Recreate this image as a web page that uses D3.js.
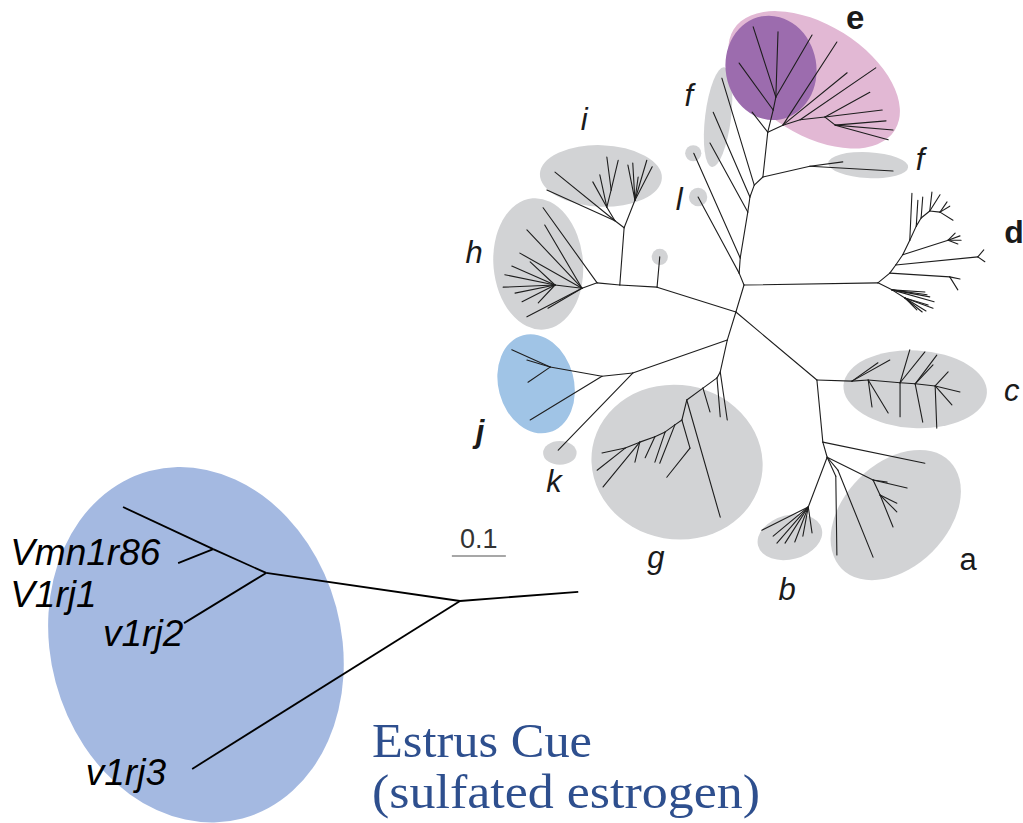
<!DOCTYPE html>
<html>
<head>
<meta charset="utf-8">
<script src="https://cdn.jsdelivr.net/npm/d3@7"></script>
<style>
  html, body { margin: 0; padding: 0; background: #ffffff; }
  svg { display: block; }
</style>
</head>
<body>
<svg id="chart" width="1023" height="823"></svg>
<script>
// V1R receptor family: unrooted tree, node positions in substitutions/site
// [id, parent, x, y]
const treeNodes = [
  ["A", null, 0, 0],
  ["d0", "A", 0.248, -0.004],
  ["U1", "A", -0.009, -0.022],
  ["tl", "U1", -0.085, -0.163],
  ["U2", "U1", -0.007, -0.050],
  ["tdot", "U2", -0.093, -0.244],
  ["U3", "U2", 0.007, -0.135],
  ["tf1", "U3", -0.063, -0.263],
  ["U3b", "U3", 0.011, -0.163],
  ["tf2", "U3b", -0.057, -0.320],
  ["U4", "U3b", 0.019, -0.185],
  ["tf3", "U4", -0.041, -0.383],
  ["U5", "U4", 0.035, -0.200],
  ["F1", "U5", 0.122, -0.220],
  ["tfr1", "F1", 0.183, -0.228],
  ["tfr2", "F1", 0.276, -0.211],
  ["U6", "U5", 0.044, -0.283],
  ["te0", "U6", 0.015, -0.320],
  ["P", "U6", 0.054, -0.324],
  ["tp1", "P", -0.009, -0.411],
  ["P2", "P", 0.059, -0.348],
  ["tp2", "P2", 0.017, -0.478],
  ["tp3", "P2", 0.063, -0.469],
  ["tp4", "P2", 0.126, -0.463],
  ["K", "U6", 0.072, -0.296],
  ["tk1", "K", 0.172, -0.450],
  ["tk2", "K", 0.191, -0.393],
  ["Ka", "K", 0.104, -0.306],
  ["tk3", "Ka", 0.244, -0.402],
  ["K2", "Ka", 0.150, -0.311],
  ["tk4", "K2", 0.233, -0.357],
  ["tk5", "K2", 0.256, -0.324],
  ["K3", "K2", 0.169, -0.296],
  ["tk6", "K3", 0.276, -0.287],
  ["tk7", "K3", 0.267, -0.269],
  ["tk8", "K3", 0.263, -0.304],
  // d
  ["d1", "d0", 0.270, -0.022],
  ["d7", "d1", 0.381, -0.015],
  ["td1", "d7", 0.400, -0.011],
  ["td2", "d7", 0.396, 0.009],
  ["d2", "d1", 0.281, -0.037],
  ["d6", "d2", 0.433, -0.052],
  ["td3", "d6", 0.444, -0.065],
  ["td4", "d6", 0.446, -0.043],
  ["d3", "d2", 0.294, -0.056],
  ["d5", "d3", 0.378, -0.083],
  ["td5", "d5", 0.400, -0.091],
  ["td6", "d5", 0.402, -0.083],
  ["td7", "d5", 0.396, -0.076],
  ["td8", "d5", 0.391, -0.096],
  ["d4", "d3", 0.307, -0.083],
  ["td9", "d4", 0.311, -0.170],
  ["d4b", "d4", 0.319, -0.109],
  ["td10", "d4b", 0.322, -0.157],
  ["d4c", "d4b", 0.328, -0.124],
  ["td11", "d4c", 0.331, -0.163],
  ["d4d", "d4c", 0.344, -0.137],
  ["td12", "d4d", 0.348, -0.172],
  ["td13", "d4d", 0.363, -0.167],
  ["d4e", "d4d", 0.363, -0.135],
  ["td14", "d4e", 0.381, -0.146],
  ["td15", "d4e", 0.387, -0.120],
  ["td16", "d4e", 0.376, -0.154],
  ["d8", "d0", 0.274, 0.009],
  ["td17", "d8", 0.335, 0.013],
  ["td18", "d8", 0.344, 0.022],
  ["td19", "d8", 0.352, 0.031],
  ["d9", "d8", 0.298, 0.024],
  ["td20", "d9", 0.350, 0.043],
  ["td21", "d9", 0.330, 0.050],
  ["td22", "d9", 0.320, 0.046],
  ["td23", "d9", 0.341, 0.037],
  ["td24", "d9", 0.337, 0.048],
  ["td25", "d8", 0.339, 0.018],
  // c, a, b
  ["B", "A", -0.015, 0.050],
  ["AB0", "B", 0.135, 0.176],
  ["c1", "AB0", 0.200, 0.178],
  ["tc1", "c1", 0.270, 0.139],
  ["tc2", "c1", 0.248, 0.144],
  ["c2", "c1", 0.230, 0.176],
  ["tc3", "c2", 0.237, 0.226],
  ["tc4", "c2", 0.267, 0.237],
  ["c3", "c2", 0.289, 0.181],
  ["tc5", "c3", 0.307, 0.120],
  ["tc6", "c3", 0.289, 0.244],
  ["tc15", "c3", 0.335, 0.124],
  ["c4", "c3", 0.317, 0.183],
  ["tc8", "c4", 0.357, 0.130],
  ["tc9", "c4", 0.331, 0.254],
  ["tc10", "c4", 0.350, 0.148],
  ["c5", "c4", 0.354, 0.187],
  ["tc11", "c5", 0.400, 0.198],
  ["tc12", "c5", 0.357, 0.265],
  ["tc13", "c5", 0.378, 0.161],
  ["tc14", "c5", 0.385, 0.222],
  ["AB1", "AB0", 0.146, 0.291],
  ["ta0", "AB1", 0.335, 0.330],
  ["AB2", "AB1", 0.154, 0.319],
  ["b0", "AB2", 0.119, 0.411],
  ["tb1", "b0", 0.033, 0.454],
  ["tb2", "b0", 0.054, 0.465],
  ["tb3", "b0", 0.061, 0.478],
  ["tb4", "b0", 0.076, 0.478],
  ["tb5", "b0", 0.094, 0.476],
  ["tb6", "b0", 0.109, 0.465],
  ["tb7", "b0", 0.126, 0.459],
  ["a1", "AB2", 0.170, 0.354],
  ["ta1", "a1", 0.172, 0.500],
  ["a2", "AB2", 0.174, 0.343],
  ["ta2", "a2", 0.239, 0.504],
  ["a3", "AB2", 0.239, 0.361],
  ["ta3", "a3", 0.302, 0.376],
  ["ta4", "a3", 0.265, 0.365],
  ["a4", "a3", 0.252, 0.389],
  ["ta5", "a4", 0.283, 0.404],
  ["ta6", "a4", 0.283, 0.420],
  ["ta7", "a4", 0.276, 0.448],
  // j, k, g
  ["F", "B", -0.031, 0.102],
  ["H", "F", -0.206, 0.163],
  ["tk", "H", -0.344, 0.306],
  ["I", "H", -0.263, 0.169],
  ["tj0", "I", -0.396, 0.250],
  ["j0", "I", -0.359, 0.152],
  ["tj1", "j0", -0.430, 0.120],
  ["tj2", "j0", -0.400, 0.180],
  ["tj3", "j0", -0.402, 0.139],
  ["G", "F", -0.044, 0.161],
  ["tg1", "G", -0.031, 0.250],
  ["G1", "G", -0.050, 0.172],
  ["tg2", "G1", -0.044, 0.244],
  ["G2", "G1", -0.076, 0.191],
  ["tg3", "G2", -0.063, 0.235],
  ["G3", "G2", -0.106, 0.213],
  ["tg4", "G3", -0.044, 0.430],
  ["G4", "G3", -0.115, 0.250],
  ["G5", "G4", -0.100, 0.302],
  ["tg5", "G5", -0.143, 0.356],
  ["G6", "G4", -0.128, 0.259],
  ["tg6", "G6", -0.156, 0.330],
  ["G7", "G6", -0.146, 0.272],
  ["tg7", "G7", -0.165, 0.328],
  ["G8", "G7", -0.165, 0.281],
  ["tg8", "G8", -0.183, 0.320],
  ["G9", "G8", -0.193, 0.291],
  ["tg9", "G9", -0.202, 0.328],
  ["G10", "G9", -0.220, 0.302],
  ["tg10", "G10", -0.263, 0.311],
  ["tg11", "G10", -0.272, 0.343],
  ["tg12", "G9", -0.261, 0.374],
  // h, i
  ["C", "B", -0.161, 0.004],
  ["tdot2", "C", -0.156, -0.052],
  ["D", "C", -0.230, 0.000],
  ["i0", "D", -0.222, -0.106],
  ["i1", "i0", -0.239, -0.119],
  ["ti1", "i1", -0.365, -0.176],
  ["ti2", "i1", -0.350, -0.209],
  ["i2", "i1", -0.254, -0.144],
  ["ti3", "i2", -0.267, -0.204],
  ["ti4", "i2", -0.280, -0.191],
  ["i4", "i2", -0.246, -0.176],
  ["ti5", "i4", -0.254, -0.237],
  ["ti6", "i4", -0.233, -0.231],
  ["i3", "i0", -0.202, -0.157],
  ["ti7", "i3", -0.215, -0.222],
  ["ti8", "i3", -0.206, -0.226],
  ["ti9", "i3", -0.180, -0.231],
  ["ti10", "i3", -0.170, -0.219],
  ["ti11", "i3", -0.196, -0.200],
  ["E", "D", -0.272, -0.004],
  ["th1", "E", -0.372, -0.143],
  ["h0", "E", -0.300, 0.006],
  ["th2", "h0", -0.402, -0.102],
  ["th3", "h0", -0.415, -0.059],
  ["th4", "h0", -0.363, 0.043],
  ["th5", "h0", -0.402, 0.059],
  ["th13", "h0", -0.369, -0.111],
  ["h1", "h0", -0.350, 0.000],
  ["th6", "h1", -0.443, -0.019],
  ["th7", "h1", -0.446, 0.004],
  ["th8", "h1", -0.424, 0.015],
  ["th9", "h1", -0.430, -0.035],
  ["th10", "h1", -0.396, -0.043],
  ["th11", "h1", -0.411, 0.031],
  ["th12", "h1", -0.381, 0.033]
];

// Clade outlines: [clade, cx, cy, rx, ry, angle]
const cladeOutlines = [
  ["f", -0.048, -0.311, 0.024, 0.093, 7],
  ["f-dot", -0.094, -0.244, 0.015, 0.015, 0],
  ["l", -0.085, -0.163, 0.017, 0.017, 0],
  ["f2", 0.230, -0.222, 0.074, 0.024, 3],
  ["i", -0.265, -0.202, 0.113, 0.057, 2],
  ["h", -0.381, -0.039, 0.083, 0.122, -5],
  ["h-dot", -0.156, -0.052, 0.015, 0.015, 0],
  ["k", -0.341, 0.311, 0.031, 0.022, 0],
  ["g", -0.124, 0.328, 0.159, 0.143, 10],
  ["c", 0.317, 0.193, 0.133, 0.072, 3],
  ["a", 0.281, 0.426, 0.141, 0.096, -45],
  ["b", 0.085, 0.467, 0.061, 0.041, -15],
  ["e", 0.130, -0.380, 0.176, 0.102, 32],
  ["e-sub", 0.050, -0.402, 0.084, 0.097, -10],
  ["j", -0.385, 0.183, 0.070, 0.093, -15]
];

const cladeLabels = ["e", "f", "i", "f", "l", "h", "d", "c", "j", "k", "g", "b", "a"];
const cladeLabelPos = [
  [0.206, -0.474], [-0.102, -0.331], [-0.296, -0.287], [0.326, -0.213],
  [-0.120, -0.139], [-0.500, -0.041], [0.500, -0.078], [0.496, 0.215],
  [-0.489, 0.291], [-0.352, 0.383], [-0.163, 0.524], [0.080, 0.583], [0.415, 0.528]
];

// Magnified view of the Estrus Cue receptor clade, rooted at its basal node
const insetNodes = [
  ["n1", null, 0, 0],
  ["stem", "n1", 0.219, -0.017],
  ["n2", "n1", -0.359, -0.052],
  ["m", "n2", -0.457, -0.096],
  ["Vmn1r86", "m", -0.624, -0.174],
  ["V1rj1", "m", -0.522, -0.070],
  ["v1rj2", "n2", -0.511, 0.041],
  ["v1rj3", "n1", -0.496, 0.311]
];
const insetLabels = ["Vmn1r86", "V1rj1", "v1rj2", "v1rj3"];
const insetLabelPos = [[-0.833, -0.067], [-0.833, 0.011], [-0.661, 0.083], [-0.693, 0.341]];
const insetOutline = [-0.489, 0.081, 0.269, 0.333, -15];

const scaleBarValue = 0.1;
const titleLines = ["Estrus Cue", "(sulfated estrogen)"];

const outlineFill = {
  "e": "#e2b8d4", "e-sub": "#9c6cae", "j": "#a0c4e6"
};
const grayFill = "#d2d3d5";

const svg = d3.select("#chart");

// 540 px per substitution/site
const x = d3.scaleLinear().domain([0, 0.1]).range([744, 798]);
const y = d3.scaleLinear().domain([0, 0.1]).range([285, 339]);
const ix = d3.scaleLinear().domain([0, 0.1]).range([460, 514]);
const iy = d3.scaleLinear().domain([0, 0.1]).range([601, 655]);

function ellipse(g, d, sx, sy, fill) {
  const [, cx, cy, rx, ry, ang] = d;
  g.append("ellipse")
    .attr("cx", 0).attr("cy", 0)
    .attr("rx", sx(rx) - sx(0))
    .attr("ry", sy(ry) - sy(0))
    .attr("transform", `translate(${sx(cx)},${sy(cy)}) rotate(${ang})`)
    .attr("fill", fill);
}

// inset outline
ellipse(svg.append("g"), [null, ...insetOutline], ix, iy, "#a4b9e1");

// clade outlines
const gOut = svg.append("g");
cladeOutlines.forEach(d => ellipse(gOut, d, x, y, outlineFill[d[0]] || grayFill));

// branches
const byId = new Map(treeNodes.map(d => [d[0], d]));
svg.append("g")
  .selectAll("line")
  .data(treeNodes.filter(d => d[1]))
  .join("line")
  .attr("x1", d => x(byId.get(d[1])[2]))
  .attr("y1", d => y(byId.get(d[1])[3]))
  .attr("x2", d => x(d[2]))
  .attr("y2", d => y(d[3]))
  .attr("stroke", "#1e1e1e")
  .attr("stroke-width", 1.1)
  .attr("stroke-linecap", "round");

const inById = new Map(insetNodes.map(d => [d[0], d]));
svg.append("g")
  .selectAll("line")
  .data(insetNodes.filter(d => d[1]))
  .join("line")
  .attr("x1", d => ix(inById.get(d[1])[2]))
  .attr("y1", d => iy(inById.get(d[1])[3]))
  .attr("x2", d => ix(d[2]))
  .attr("y2", d => iy(d[3]))
  .attr("stroke", "#000")
  .attr("stroke-width", 1.8);

// clade letters
const labelStyle = {
  e: { weight: 700, style: "normal", size: 33 },
  d: { weight: 700, style: "normal", size: 32 },
  j: { weight: 700, style: "italic", size: 31 },
  a: { weight: 400, style: "normal", size: 31 }
};
svg.append("g")
  .selectAll("text")
  .data(cladeLabels)
  .join("text")
  .attr("x", (d, i) => x(cladeLabelPos[i][0]))
  .attr("y", (d, i) => y(cladeLabelPos[i][1]))
  .attr("text-anchor", "middle")
  .attr("font-family", "Liberation Sans, Arial, sans-serif")
  .attr("font-size", d => (labelStyle[d] || {}).size || 31)
  .attr("font-weight", d => (labelStyle[d] || {}).weight || 400)
  .attr("font-style", d => (labelStyle[d] || {}).style || "italic")
  .attr("fill", "#1a1a1a")
  .text(d => d);

// scale bar
const sbX = -0.541, sbY = 0.502;
svg.append("line")
  .attr("x1", x(sbX)).attr("x2", x(sbX + scaleBarValue))
  .attr("y1", y(sbY)).attr("y2", y(sbY))
  .attr("stroke", "#8a8a8a").attr("stroke-width", 1.5);
svg.append("text")
  .attr("x", (x(sbX) + x(sbX + scaleBarValue)) / 2)
  .attr("y", y(sbY) - 8)
  .attr("text-anchor", "middle")
  .attr("font-family", "Liberation Sans, Arial, sans-serif")
  .attr("font-size", 27)
  .attr("fill", "#333")
  .text(scaleBarValue.toFixed(1));

// inset gene names
svg.append("g")
  .selectAll("text")
  .data(insetLabels)
  .join("text")
  .attr("x", (d, i) => ix(insetLabelPos[i][0]))
  .attr("y", (d, i) => iy(insetLabelPos[i][1]))
  .attr("font-family", "Liberation Sans, Arial, sans-serif")
  .attr("font-style", "italic")
  .attr("font-size", 37)
  .attr("fill", "#000")
  .text(d => d);

// ligand annotation
svg.append("g")
  .selectAll("text")
  .data(titleLines)
  .join("text")
  .attr("x", 372)
  .attr("y", (d, i) => 757 + i * 51)
  .attr("font-family", "Liberation Serif, Times New Roman, serif")
  .attr("font-size", 49)
  .attr("fill", "#2e4f8e")
  .attr("textLength", (d, i) => i === 0 ? 220 : 388)
  .attr("lengthAdjust", "spacingAndGlyphs")
  .text(d => d);
</script>
</body>
</html>
